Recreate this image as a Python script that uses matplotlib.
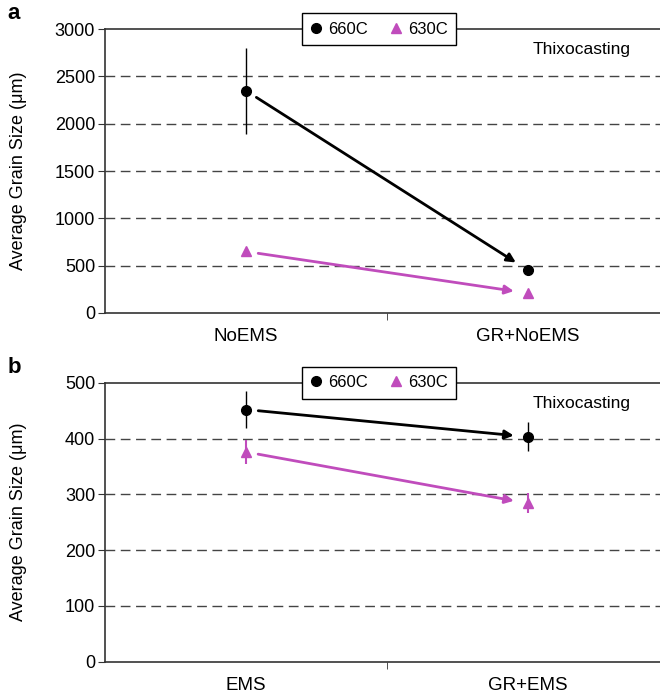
import matplotlib
matplotlib.use('Agg')
import matplotlib.pyplot as plt
from matplotlib.lines import Line2D
import numpy as np

# panel a
cats_a = ['NoEMS', 'GR+NoEMS']
g660_a = [2350, 455]
g660_a_err = [455, 0]
g630_a = [650, 210]
g630_a_err = [0, 0]

# panel b
cats_b = ['EMS', 'GR+EMS']
g660_b = [452, 403]
g660_b_err = [33, 26]
g630_b = [376, 284]
g630_b_err = [22, 18]

yticks_a = [0, 500, 1000, 1500, 2000, 2500, 3000]
yticks_b = [0, 100, 200, 300, 400, 500]

magenta = '#c04cbc'
spine_col = '#333333'

plt.rcParams['font.family'] = 'Liberation Sans'

fig = plt.figure(figsize=(6.6, 6.94), dpi=100)
ax_a = fig.add_axes([0.159, 0.549, 0.841, 0.409])
ax_b = fig.add_axes([0.159, 0.0465, 0.841, 0.402])


def draw_panel(ax, cats, v660, e660, v630, e630, yticks, letter):
    x = np.arange(len(cats)) + 0.5
    ax.errorbar(x, v660, yerr=e660, fmt='o', color='black', ms=7,
                elinewidth=1, capsize=0, zorder=4)
    ax.errorbar(x, v630, yerr=e630, fmt='^', color=magenta, ms=7,
                elinewidth=1.5, capsize=0, zorder=4)
    # arrows from first to second condition
    for vals, col in [(v660, 'black'), (v630, magenta)]:
        ax.annotate('', xy=(x[1], vals[1]), xytext=(x[0], vals[0]),
                    arrowprops=dict(arrowstyle='-|>', color=col, lw=2,
                                    mutation_scale=13, shrinkA=9, shrinkB=10),
                    zorder=3)
    ax.set_xlim(0, 1.97)
    ax.set_ylim(yticks[0], yticks[-1])
    ax.set_yticks(yticks)
    ax.set_xticks(x)
    ax.set_xticklabels(cats, fontsize=13.5)
    ax.set_xticks([1.0], minor=True)
    ax.tick_params(axis='x', which='major', length=0, pad=11)
    ax.tick_params(axis='x', which='minor', length=5, direction='out', color=spine_col)
    ax.tick_params(axis='y', labelsize=13, length=5, pad=2, color=spine_col)
    for t in yticks[1:-1]:
        ax.axhline(t, color='#444444', lw=1, ls=(0, (7, 4)), zorder=1)
    ax.spines['right'].set_visible(False)
    for s in ['left', 'bottom', 'top']:
        ax.spines[s].set_color(spine_col)
        ax.spines[s].set_linewidth(1.2)
    ax.set_ylabel('Average Grain Size (μm)', fontsize=13)
    ax.yaxis.set_label_coords(-0.141, 0.5)
    ax.text(0.858, 0.927, 'Thixocasting', transform=ax.transAxes,
            fontsize=12.5, ha='center', va='center')
    handles = [Line2D([], [], ls='none', marker='o', color='black', ms=7),
               Line2D([], [], ls='none', marker='^', color=magenta, ms=7)]
    leg = ax.legend(handles, ['660C', '630C'], loc='center',
                    bbox_to_anchor=(0.494, 1.0), ncol=2,
                    frameon=True, fancybox=False, fontsize=12,
                    handlelength=0.7, handletextpad=0.4, columnspacing=1.3,
                    borderpad=0.5, borderaxespad=0)
    leg.get_frame().set_edgecolor('black')
    leg.get_frame().set_linewidth(1)
    leg.get_frame().set_alpha(1)
    fig.text(0.011, ax.get_position().y1 + 0.022, letter, fontsize=16,
             fontweight='bold', ha='left', va='center')


draw_panel(ax_a, cats_a, g660_a, g660_a_err, g630_a, g630_a_err, yticks_a, 'a')
draw_panel(ax_b, cats_b, g660_b, g660_b_err, g630_b, g630_b_err, yticks_b, 'b')

plt.savefig('out.png', dpi=100)
